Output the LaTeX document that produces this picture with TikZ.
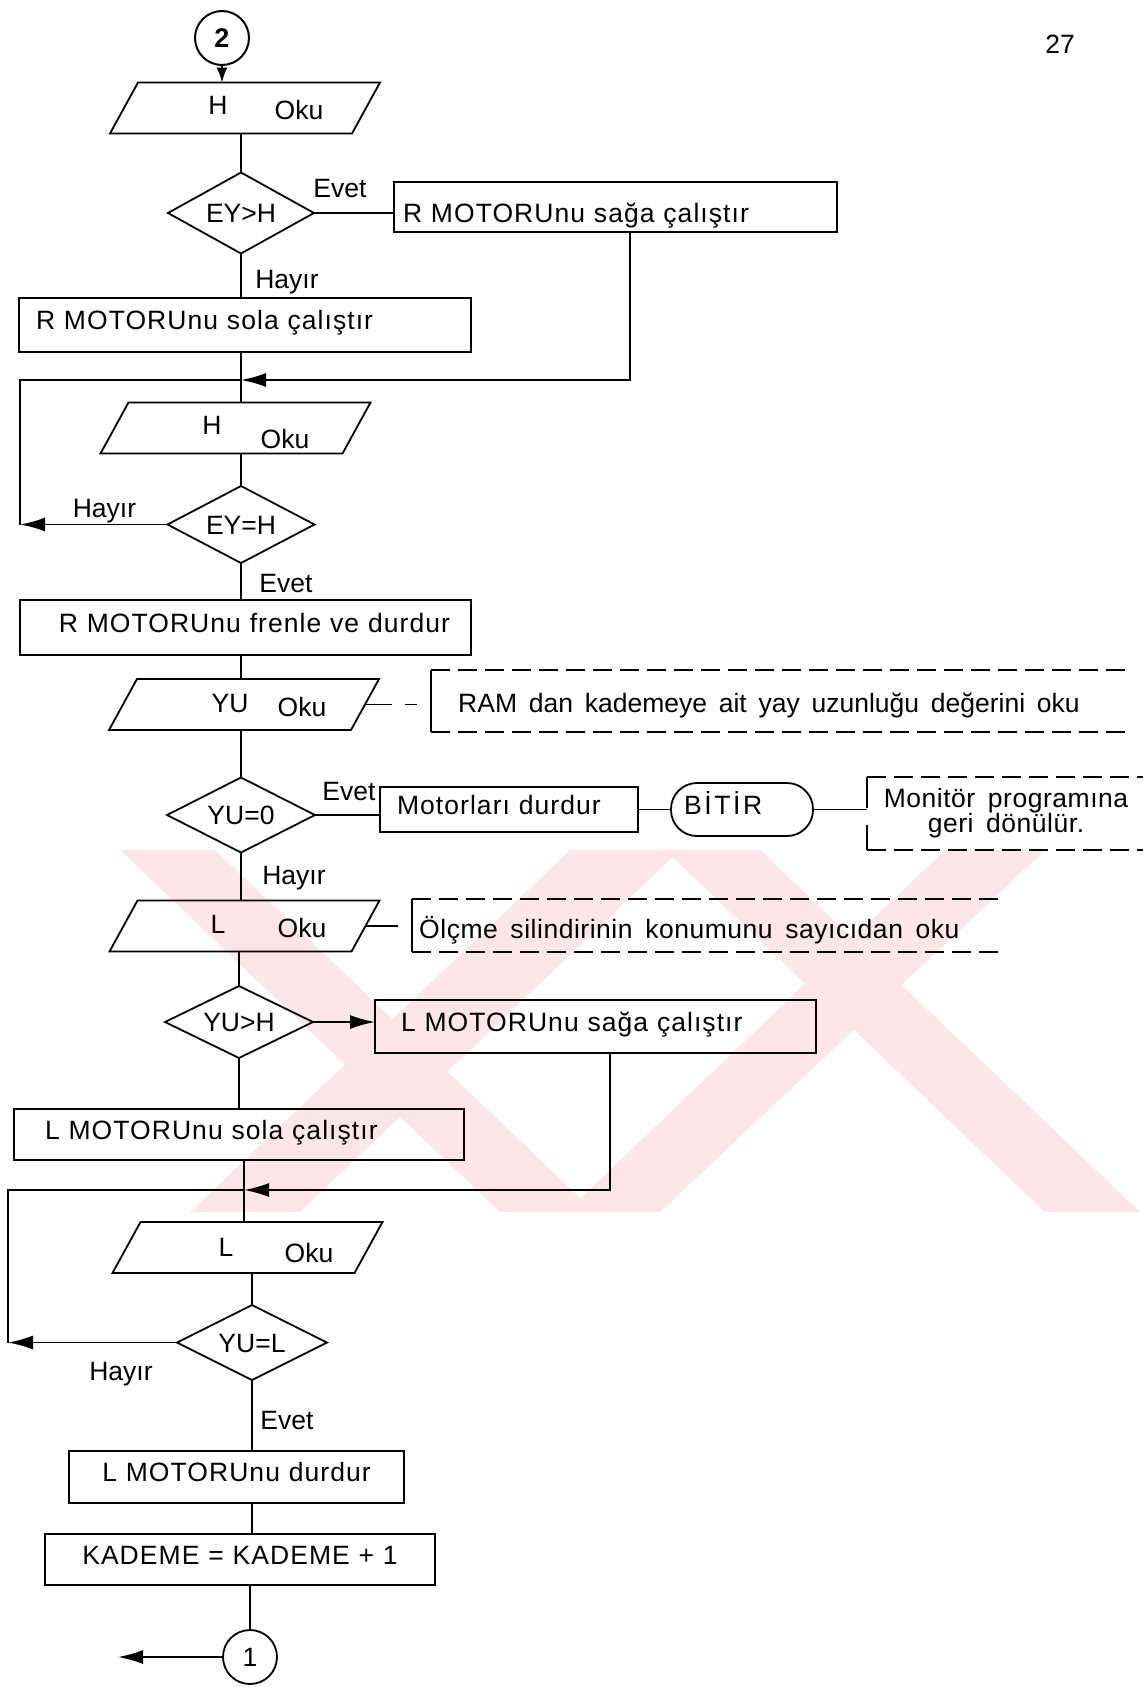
\documentclass[tikz,border=0pt]{standalone}
\usepackage{fontspec}
\setmainfont{Liberation Sans}[WordSpace=1.6]
\usetikzlibrary{shapes.geometric,arrows.meta}

\definecolor{markpink}{RGB}{253,230,233}

\tikzset{
  txt/.style={font=\fontsize{26.5}{30}\selectfont},
  boxtxt/.style={font=\fontsize{26.5}{30}\selectfont\addfontfeature{LetterSpace=4}},
  ln/.style={line width=1.8pt},
  arr/.style={ln, -{Latex[length=25pt,width=14pt]}},
  smallarr/.style={ln, -{Latex[length=15pt,width=11pt]}},
  procbox/.style={draw, ln, rectangle, inner ysep=0pt, outer sep=0pt,
    text height=19pt, text depth=10pt, boxtxt},
  iobox/.style={rectangle, minimum width=270pt, minimum height=51pt,
    inner sep=0pt, outer sep=0pt},
  decision/.style={draw, ln, diamond, aspect=2, inner sep=0pt, outer sep=0pt,
    text height=19pt, text depth=0pt, txt},
  conn/.style={draw, circle, line width=2pt, inner sep=0pt, minimum size=54pt, txt},
  lbl/.style={anchor=base, inner sep=0pt, txt},
  note/.style={anchor=base west, inner sep=0pt, txt},
  notedash/.style={ln, dash pattern=on 19pt off 8pt},
  pinkstrip/.style={fill=markpink, draw=none},
}

\begin{document}
\begin{tikzpicture}[x=1pt,y=-1pt]
\useasboundingbox (0,0) rectangle (1143,1687);

% pale background strips
\fill[pinkstrip] (120,850) -- (215,850) -- (595,1212) -- (500,1212) -- cycle;
\fill[pinkstrip] (190,1212) -- (300,1212) -- (680,850) -- (570,850) -- cycle;
\fill[pinkstrip] (566,1212) -- (660,1212) -- (1045,850) -- (945,850) -- cycle;
\fill[pinkstrip] (665,850) -- (760,850) -- (1140,1212) -- (1045,1212) -- cycle;

% page number
\node[lbl] (pg) at (1060,53) {27};

% ---------- R motor ----------
\node[conn, font=\fontsize{27}{30}\selectfont\bfseries] (c2) at (222,38) {2};

\node[iobox] (p1) at (245,108) {};
\node[lbl] (p1a) at (218,114) {H};
\node[lbl] (p1b) at (299,119) {Oku};

\node[decision, minimum width=146pt, minimum height=81pt] (d1) at (241,213) {EY>H};
\node[lbl] (e1) at (340,197) {Evet};
\node[lbl] (h1) at (287,288) {Hayır};

\node[procbox, text height=31pt, text depth=0pt, minimum height=50pt, inner xsep=9pt,
  text width=425pt, align=left]
  (b1) at (615.5,207) {R MOTORUnu sağa çalıştır};
\node[procbox, minimum height=54pt, inner xsep=17pt, text width=418pt, align=left]
  (b2) at (245,325) {R MOTORUnu sola çalıştır};

\coordinate (j1) at (630,380);
\coordinate (lc1) at (20,524.5);

\node[iobox] (p2) at (235.5,428) {};
\node[lbl] (p2a) at (212,434) {H};
\node[lbl] (p2b) at (285,448) {Oku};

\node[decision, minimum width=147pt, minimum height=77pt] (d2) at (241,524.5) {EY=H};
\node[lbl] (h2) at (104.5,517) {Hayır};
\node[lbl] (e2) at (286,592) {Evet};

\node[procbox, minimum height=55pt, inner xsep=21pt, text width=409pt, align=right]
  (b3) at (245.5,627.5) {R MOTORUnu frenle ve durdur};

% ---------- spring length ----------
\node[iobox] (p3) at (244,704.5) {};
\node[lbl] (p3a) at (230,712) {YU};
\node[lbl] (p3b) at (302,716) {Oku};

\coordinate (a1t) at (431,670);
\coordinate (a1b) at (431,732);
\coordinate (a1te) at (1125,670);
\coordinate (a1be) at (1125,732);
\node[note] (n1) at (458,712) {RAM dan kademeye ait yay uzunluğu değerini oku};

\node[decision, minimum width=148pt, minimum height=75pt] (d3) at (241,815) {YU=0};
\node[lbl] (e3) at (349,800) {Evet};
\node[lbl] (h3) at (294,884) {Hayır};

\node[procbox, minimum width=258pt, minimum height=45pt, inner xsep=17pt, text width=224pt, align=left]
  (b4) at (509,809.5) {Motorları durdur};
\node[procbox, rounded corners=26pt, minimum height=53pt, inner xsep=13pt, text width=116pt, align=left,
  font=\fontsize{26.5}{30}\selectfont\addfontfeature{LetterSpace=10}]
  (bitir) at (742,809.5) {BİTİR};

\coordinate (a2t) at (867,777);
\coordinate (a2b) at (867,850);
\coordinate (a2te) at (1143,777);
\coordinate (a2be) at (1143,850);
\node[inner sep=0pt, align=center, font=\fontsize{26.5}{23}\selectfont\addfontfeature{LetterSpace=2}]
  (n2) at (1006,813) {Monitör programına\\geri dönülür.};

% ---------- L motor ----------
\node[iobox] (p4) at (244.5,926) {};
\node[lbl] (p4a) at (218,933) {L};
\node[lbl] (p4b) at (302,937) {Oku};

\coordinate (a3t) at (412,899);
\coordinate (a3b) at (412,952);
\coordinate (a3te) at (998,899);
\coordinate (a3be) at (998,952);
\node[note, font=\fontsize{26.5}{30}\selectfont\addfontfeature{LetterSpace=2}]
  (n3) at (419,938) {Ölçme silindirinin konumunu sayıcıdan oku};

\node[decision, minimum width=148pt, minimum height=72pt] (d4) at (239,1022) {YU>H};

\node[procbox, minimum height=53pt, inner xsep=26pt, text width=389pt, align=left]
  (b5) at (595.5,1026.5) {L MOTORUnu sağa çalıştır};
\node[procbox, minimum height=51pt, inner xsep=31pt, text width=388pt, align=left]
  (b6) at (239,1134.5) {L MOTORUnu sola çalıştır};

\coordinate (j2) at (610,1190);
\coordinate (colB) at (244,0);
\coordinate (lc2) at (8,1342.5);

\node[iobox] (p5) at (247.5,1247.5) {};
\node[lbl] (p5a) at (226,1256) {L};
\node[lbl] (p5b) at (309,1262) {Oku};

\node[decision, minimum width=150pt, minimum height=75pt] (d5) at (252,1342.5) {YU=L};
\node[lbl] (h5) at (121,1380) {Hayır};
\node[lbl] (e5) at (287,1429) {Evet};

\node[procbox, minimum height=52pt, inner xsep=10pt, text width=315pt, align=center]
  (b7) at (236.5,1477) {L MOTORUnu durdur};
\node[procbox, minimum height=51pt, inner xsep=10pt, text width=370pt, align=center]
  (b8) at (240,1559.5) {KADEME = KADEME + 1};

\node[conn, line width=1.8pt] (c1) at (250,1657) {1};
\coordinate (x1) at (118,1657);

% input/output parallelograms
\foreach \n in {p1,p2,p3,p4,p5}
  \draw[ln] (\n.south west) -- ([xshift=28pt]\n.north west) -- (\n.north east)
            -- ([xshift=-28pt]\n.south east) -- cycle;

% ---------- connectors ----------
\draw[smallarr] (c2.south) -- (c2.south |- p1.north);
\draw[ln] (p1.south -| d1.north) -- (d1.north);
\draw[ln] (d1.east) -- (d1.east -| b1.west);
\draw[ln] (d1.south) -- (d1.south |- b2.north);
\draw[ln] (b2.south -| d2.north) -- (p2.north -| d2.north);
\draw[arr] (b1.south -| j1) -- (j1) -- (j1 -| d2.north);
\draw[ln] (p2.south -| d2.north) -- (d2.north);
\draw[arr] (d2.west) -- (d2.west -| lc1);
\draw[ln] (lc1) |- (j1 -| d2.north);
\draw[ln] (d2.south) -- (d2.south |- b3.north);
\draw[ln] (b3.south -| d3.north) -- (p3.north -| d3.north);

% note on the spring length
\draw[ln, dash pattern=on 27pt off 13pt] ([xshift=-14pt]p3.east) -- ([xshift=-14pt]p3.east -| a1t);
\draw[ln] (a1t) -- (a1b);
\draw[notedash] (a1t) -- (a1te);
\draw[notedash] (a1b) -- (a1be);

\draw[ln] (p3.south -| d3.north) -- (d3.north);
\draw[ln] (d3.east) -- (d3.east -| b4.west);
\draw[ln] (b4.east) -- (bitir.west);
\draw[ln] (bitir.east) -- (bitir.east -| a2t);
\draw[ln, dash pattern=on 31pt off 17pt] (a2t) -- (a2b);
\draw[notedash] (a2t) -- (a2te);
\draw[notedash] (a2b) -- (a2be);

\draw[ln] (d3.south) -- (d3.south |- p4.north);

% note on the measuring cylinder
\draw[ln] ([xshift=-14pt]p4.east) -- ([xshift=-14pt]p4.east -| a3t);
\draw[ln] (a3t) -- (a3b);
\draw[notedash] (a3t) -- (a3te);
\draw[notedash] (a3b) -- (a3be);

\draw[ln] (p4.south -| d4.north) -- (d4.north);
\draw[arr] (d4.east) -- (d4.east -| b5.west);
\draw[ln] (d4.south) -- (d4.south |- b6.north);
\draw[ln] (b6.south -| colB) -- (p5.north -| colB);
\draw[arr] (b5.south -| j2) -- (j2) -- (j2 -| colB);
\draw[ln] (p5.south -| d5.north) -- (d5.north);
\draw[arr] (d5.west) -- (d5.west -| lc2);
\draw[ln] (lc2) |- (j2 -| colB);
\draw[ln] (d5.south) -- (d5.south |- b7.north);
\draw[ln] (b7.south -| d5.south) -- (b8.north -| d5.south);
\draw[ln] (b8.south -| c1.north) -- (c1.north);
\draw[arr] (c1.west) -- (x1);

\end{tikzpicture}
\end{document}
